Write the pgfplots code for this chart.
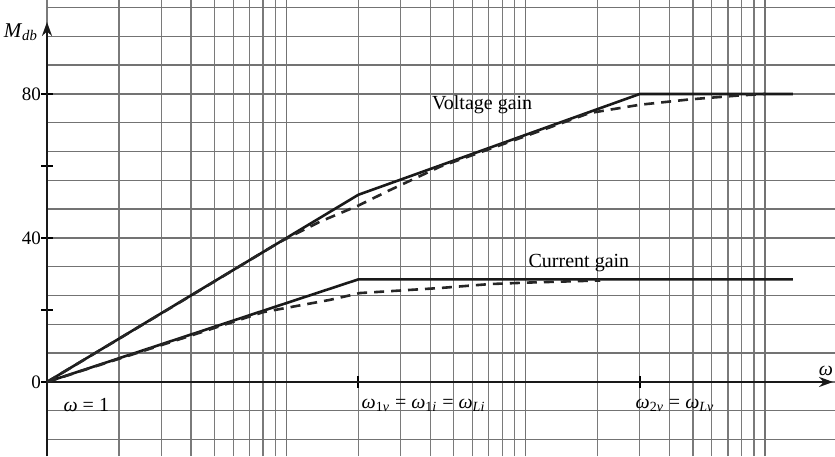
\documentclass[border=0pt]{standalone}
\usepackage{fontspec}
\setmainfont{Liberation Serif}
\usepackage{pgfplots}
\pgfplotsset{compat=1.18}
\usetikzlibrary{arrows.meta}
\newcommand{\om}{\textit{ω}}
\newcommand{\sbs}[1]{\textsubscript{#1}}
\begin{document}
\begin{tikzpicture}
\begin{axis}[
  scale only axis,
  width=394pt, height=228pt,
  xmode=log,
  xmin=1, xmax=1963,
  ymin=-20.56, ymax=106.1,
  axis x line=middle, axis y line=left,
  axis line style={draw=none},
  xmajorgrids, xminorgrids, ymajorgrids,
  major grid style={black!55, line width=0.7pt},
  minor grid style={black!52, line width=0.65pt},
  xtick={1,10,100,1000}, xticklabels={},
  ytick={-16,-8,...,104}, yticklabels={},
  major tick length=0pt, minor tick length=0pt,
  extra x ticks={20,300}, extra x tick labels={},
  extra x tick style={grid=none, major tick length=6pt, tick align=center, tick style={black, line width=0.9pt}},
  extra y ticks={0,20,40,60,80}, extra y tick labels={0,,40,,80},
  extra y tick style={grid=none, major tick length=6pt, tick align=center, tick style={black, line width=0.9pt}},
  /pgf/number format/assume math mode=true,
  tick label style={font=\fontsize{9.5}{11}\selectfont, black},
  yticklabel style={xshift=3.5pt},
  clip=false,
]
\coordinate (sw) at (rel axis cs:0,0);
\coordinate (ne) at (rel axis cs:1,1);
% axes
\draw[line width=1.3pt, black!90, -{Stealth[length=7pt,width=5pt]}] (axis cs:1,-20.56) -- (axis cs:1,100);
\draw[line width=1.3pt, black!90, -{Stealth[length=7pt,width=5pt]}] (axis cs:1,0) -- (axis cs:1927,0);
% asymptotes (solid)
\addplot[line width=1.3pt, black!90] coordinates {(1,0) (20,52) (300,80) (1310,80)};
\addplot[line width=1.3pt, black!90] coordinates {(1,0) (20,28.5) (1310,28.5)};
% actual curves (dashed)
\addplot[line width=1.3pt, black!85, dash pattern=on 5pt off 3.5pt] coordinates {
  (1,0) (4,24) (9.4,38.9) (13.8,44.5) (20,49) (27.1,53.3) (43.9,59.8) (100,68.3) (185,74.7) (300,77) (486,78.5) (787,79.6) (1000,80)};
\addplot[line width=1.3pt, black!85, dash pattern=on 5pt off 3.5pt] coordinates {
  (1,0) (4,12.9) (8,19.4) (15.2,22.8) (20.3,24.7) (43.9,26.1) (71,27.2) (101,27.6) (205,28.2)};
% labels
\node[font=\fontsize{10}{12}\selectfont] at (axis cs:65.8,76.9) {Voltage gain};
\node[font=\fontsize{10}{12}\selectfont] at (axis cs:167,33.1) {Current gain};
\node[font=\fontsize{10}{12}\selectfont] at (axis cs:1.46,-6.4) {\om{} = 1};
\node[font=\fontsize{10}{12}\selectfont, anchor=west] at (axis cs:19.3,-6.4) {\om\sbs{1\textit{v}} = \om\sbs{1\textit{i}} = \om\sbs{\textit{Li}}};
\node[font=\fontsize{10}{12}\selectfont] at (axis cs:421,-6.4) {\om\sbs{2\textit{v}} = \om\sbs{\textit{Lv}}};
\node[font=\fontsize{10}{12}\selectfont] at (axis cs:1800,3.1) {\om};
\node[font=\fontsize{10.5}{12}\selectfont, anchor=east] at ([xshift=-1pt]axis cs:1,97.2) {\textit{M}\sbs{\textit{db}}};
\end{axis}
\pgfresetboundingbox
\path (sw) ++(-23.5pt,0) rectangle (ne);
\end{tikzpicture}
\end{document}
